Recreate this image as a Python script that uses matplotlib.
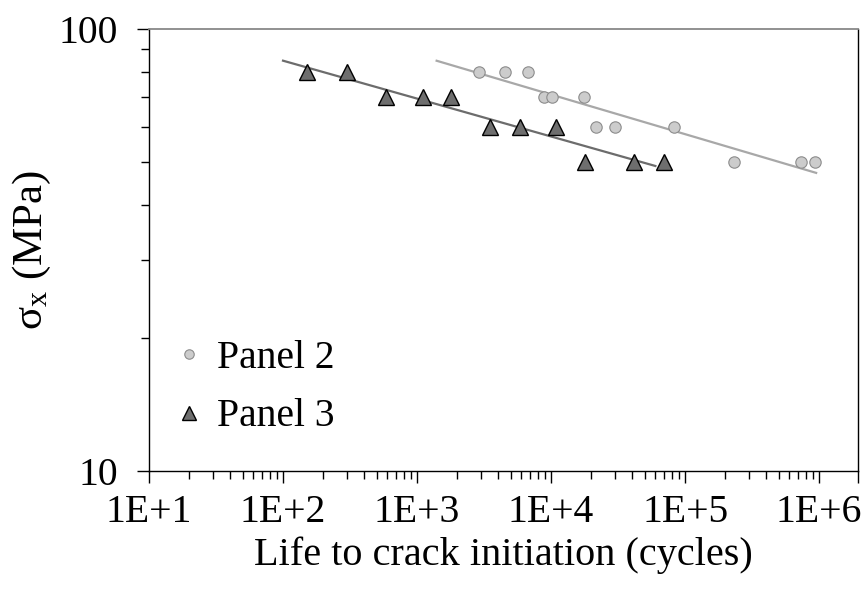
import matplotlib
matplotlib.use("Agg")
import matplotlib.pyplot as plt
import numpy as np
from matplotlib.lines import Line2D
from matplotlib.ticker import FixedLocator, NullFormatter

plt.rcParams['font.family'] = ['Liberation Serif', 'DejaVu Serif']
plt.rcParams['mathtext.fontset'] = 'custom'
plt.rcParams['mathtext.rm'] = 'Liberation Serif'
plt.rcParams['mathtext.it'] = 'Liberation Serif:italic'

# Panel 2 (circles): cycles to crack initiation and stress
panel2_cycles = [2900, 4500, 6700, 8800, 10200, 17600, 21800, 30000, 83000, 233000, 730000, 930000]
panel2_stress = [80, 80, 80, 70, 70, 70, 60, 60, 60, 50, 50, 50]

# Panel 3 (triangles)
panel3_cycles = [150, 300, 590, 1100, 1780, 3500, 5900, 10800, 18000, 41600, 69000]
panel3_stress = [80, 80, 70, 70, 70, 60, 60, 60, 50, 50, 50]

# extent of the power-law trendlines
trend2_range = [1400, 950000]
trend3_range = [100, 60000]

x_ticks = [1e1, 1e2, 1e3, 1e4, 1e5, 1e6]
x_labels = ["1E+1", "1E+2", "1E+3", "1E+4", "1E+5", "1E+6"]
x_max = 1.95e6


def power_fit(x, y, x_range):
    b, a = np.polyfit(np.log10(x), np.log10(y), 1)
    xs = np.logspace(np.log10(x_range[0]), np.log10(x_range[1]), 50)
    return xs, 10 ** (a + b * np.log10(xs))


fig = plt.figure(figsize=(8.66, 5.89), dpi=100)
ax = fig.add_axes([149 / 866, 1 - 471 / 589, 709 / 866, 442 / 589])

xs2, ys2 = power_fit(panel2_cycles, panel2_stress, trend2_range)
xs3, ys3 = power_fit(panel3_cycles, panel3_stress, trend3_range)
ax.plot(xs2, ys2, color="#a8a8a8", lw=1.6, zorder=2)
ax.plot(xs3, ys3, color="#6c6c6c", lw=1.6, zorder=2)

ax.plot(panel2_cycles, panel2_stress, ls="none", marker="o", ms=8.2,
        mfc="#cccccc", mec="#8c8c8c", mew=0.8, zorder=3)
ax.plot(panel3_cycles, panel3_stress, ls="none", marker="^", ms=11,
        mfc="#6e6e6e", mec="black", mew=1.0, zorder=3)

ax.set_xscale("log")
ax.set_yscale("log")
ax.set_xlim(10, x_max)
ax.set_ylim(10, 100)

ax.xaxis.set_major_locator(FixedLocator(x_ticks + [x_max]))
ax.set_xticklabels(x_labels + [""])
minor_x = [m * 10 ** d for d in range(1, 6) for m in range(2, 10)]
ax.xaxis.set_minor_locator(FixedLocator(minor_x))
ax.xaxis.set_minor_formatter(NullFormatter())

ax.yaxis.set_major_locator(FixedLocator([10, 100]))
ax.set_yticklabels(["10", "100"])
ax.yaxis.set_minor_locator(FixedLocator(list(range(20, 100, 10))))
ax.yaxis.set_minor_formatter(NullFormatter())

ax.tick_params(which="major", direction="out", length=8.5, width=1.0,
               labelsize=28.5, pad=8, color="black")
ax.tick_params(axis="y", which="major", pad=14)
ax.tick_params(which="minor", direction="out", length=6, width=1.0, color="black")

for side in ["left", "bottom", "right"]:
    ax.spines[side].set_color("black")
    ax.spines[side].set_linewidth(1.0)
ax.spines["top"].set_color("#888888")
ax.spines["top"].set_linewidth(1.3)

ax.set_xlabel("Life to crack initiation (cycles)", fontsize=29, labelpad=4)
ax.set_ylabel(r"σ$_\mathrm{x}$ (MPa)", fontsize=31)
ax.yaxis.set_label_coords(-0.135, 0.5)

handles = [
    Line2D([], [], ls="none", marker="o", ms=6.8, mfc="#cccccc", mec="#8c8c8c", mew=0.8),
    Line2D([], [], ls="none", marker="^", ms=10, mfc="#6e6e6e", mec="black", mew=1.0),
]
ax.legend(handles, ["Panel 2", "Panel 3"], loc="lower left",
          bbox_to_anchor=(-0.01, 0.0), frameon=False, fontsize=28.5,
          handlelength=0.6, handletextpad=0.4, labelspacing=0.55)

fig.savefig("out.png", dpi=100)
